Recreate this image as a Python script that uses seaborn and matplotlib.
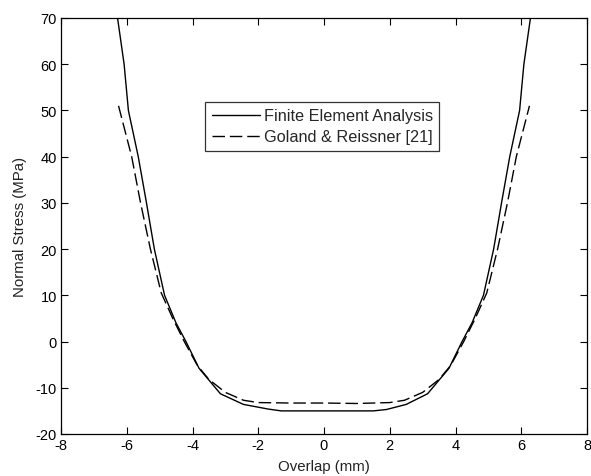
import matplotlib
matplotlib.use("Agg")
import matplotlib.pyplot as plt
import seaborn as sns
import pandas as pd

# Finite Element Analysis (solid)
fea_x = [-6.28, -6.08, -5.95, -5.65, -5.40, -5.16, -4.85, -4.50, -4.20, -3.80, -3.15, -2.45, -1.70, -1.30,
         1.50, 1.90, 2.50, 3.15, 3.80, 4.20, 4.50, 4.85, 5.16, 5.40, 5.65, 5.95, 6.08, 6.28]
fea_y = [70, 60, 50, 40, 30, 20, 10, 4, 0, -5.8, -11.3, -13.6, -14.6, -15.0,
         -15.0, -14.7, -13.6, -11.3, -5.8, 0, 4, 10, 20, 30, 40, 50, 60, 70]

# Goland & Reissner [21] (dashed)
gr_x = [-6.25, -5.85, -5.58, -5.28, -4.95, -4.60, -4.25, -3.85, -3.50, -3.00, -2.45, -2.00, -1.00,
        0.00, 1.00, 2.00, 2.45, 3.00, 3.50, 3.85, 4.25, 4.60, 4.95, 5.28, 5.58, 5.85, 6.25]
gr_y = [51, 40, 30, 20, 10.5, 5, 0, -5.2, -8.2, -11.0, -12.7, -13.2, -13.3,
        -13.3, -13.4, -13.2, -12.7, -11.0, -8.2, -5.2, 0, 5, 10.5, 20, 30, 40, 51]

labels = ["Finite Element Analysis", "Goland & Reissner [21]"]
x_ticks = [-8, -6, -4, -2, 0, 2, 4, 6, 8]
y_ticks = [-20, -10, 0, 10, 20, 30, 40, 50, 60, 70]

sns.set_style("ticks")
plt.rcParams['font.family'] = ['Liberation Sans', 'DejaVu Sans']
plt.rcParams['xtick.direction'] = 'in'
plt.rcParams['ytick.direction'] = 'in'

fig = plt.figure(figsize=(5.91, 4.77), dpi=100)
ax = fig.add_axes([61/591, 42/477, 526/591, 416/477])

df1 = pd.DataFrame({"x": fea_x, "y": fea_y})
df2 = pd.DataFrame({"x": gr_x, "y": gr_y})
sns.lineplot(data=df1, x="x", y="y", sort=False, color="black", lw=1.0, ax=ax, label=labels[0])
sns.lineplot(data=df2, x="x", y="y", sort=False, color="black", lw=1.0, ax=ax, label=labels[1],
             dashes=False)
ax.lines[1].set_dashes([9, 3.5])

ax.set_xlim(-8, 8)
ax.set_ylim(-20, 70)
ax.set_xticks(x_ticks)
ax.set_yticks(y_ticks)
ax.set_xticklabels([str(t) for t in x_ticks])
ax.set_yticklabels([str(t) for t in y_ticks])
ax.tick_params(axis="both", direction="in", length=5, width=0.8, labelsize=10.5,
               top=True, right=True, colors="black", pad=3)
for s in ax.spines.values():
    s.set_visible(True)
    s.set_color("black")
    s.set_linewidth(0.9)

ax.set_xlabel("Overlap (mm)", fontsize=10.8, labelpad=5, color="#222222")
ax.set_ylabel("Normal Stress (MPa)", fontsize=10.8, labelpad=6, color="#222222")

leg = ax.legend(loc="upper left", bbox_to_anchor=((205 - 61) / 526, (435 - 103) / 416),
                frameon=True, fancybox=False, edgecolor="black", fontsize=11.7,
                handlelength=3.0, handletextpad=0.2, borderpad=0.4, labelspacing=0.35,
                borderaxespad=0)
leg.get_frame().set_linewidth(0.9)
leg.get_lines()[1].set_dashes([9, 3.5])

fig.savefig("out.png", dpi=100)
